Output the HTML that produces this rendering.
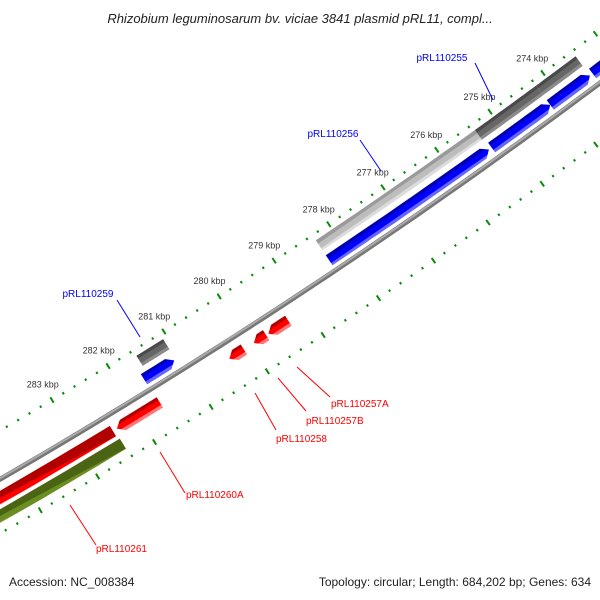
<!DOCTYPE html>
<html><head><meta charset="utf-8"><style>
html,body{margin:0;padding:0;background:#fff;width:600px;height:600px;overflow:hidden;}
svg{display:block;font-family:"Liberation Sans","DejaVu Sans",sans-serif;overflow:hidden;}
</style></head><body>
<svg id="map" width="600" height="600" viewBox="0 0 600 600">
<defs><clipPath id="frame"><rect x="0" y="0" width="600" height="600"/></clipPath></defs>
<rect width="600" height="600" fill="#fff"/>
<text x="300" y="23" text-anchor="middle" font-size="13" font-style="italic" fill="#222">Rhizobium leguminosarum bv. viciae 3841 plasmid pRL11, compl...</text>
<g id="marks" clip-path="url(#frame)"></g>
<g id="ann">
<line x1="475" y1="63" x2="493" y2="100" stroke="#00f" stroke-width="1"/>
<text x="442" y="61" text-anchor="middle" font-size="10" fill="#00f">pRL110255</text>
<line x1="360" y1="140" x2="381" y2="171" stroke="#00f" stroke-width="1"/>
<text x="333" y="137" text-anchor="middle" font-size="10" fill="#00f">pRL110256</text>
<line x1="117" y1="300" x2="140" y2="337" stroke="#00f" stroke-width="1"/>
<text x="88" y="297" text-anchor="middle" font-size="10" fill="#00f">pRL110259</text>
<line x1="297" y1="367" x2="330" y2="397" stroke="#f00" stroke-width="1"/>
<text x="331" y="407" font-size="10" fill="#f00">pRL110257A</text>
<line x1="278" y1="378" x2="306" y2="411" stroke="#f00" stroke-width="1"/>
<text x="306" y="424" font-size="10" fill="#f00">pRL110257B</text>
<line x1="255" y1="393" x2="276" y2="430" stroke="#f00" stroke-width="1"/>
<text x="276" y="442" font-size="10" fill="#f00">pRL110258</text>
<line x1="160" y1="452" x2="185" y2="493" stroke="#f00" stroke-width="1"/>
<text x="186" y="498" font-size="10" fill="#f00">pRL110260A</text>
<line x1="70" y1="505" x2="96" y2="545" stroke="#f00" stroke-width="1"/>
<text x="96" y="552" font-size="10" fill="#f00">pRL110261</text>
</g>
<text x="9" y="586" font-size="12" fill="#222">Accession: NC_008384</text>
<text x="591" y="586" text-anchor="end" font-size="12" fill="#222">Topology: circular; Length: 684,202 bp; Genes: 634</text>
</svg>
<script>
// data
const featStart = [278300,275350,274200,281070, 275350,274200,273450,271800,281100, 280120,279720,279320,281620,282450, 282420];
const featEnd   = [275350,274200,273450,281550, 278300,275300,274200,273400,281640, 280380,279940,279680,282380,292000, 292000];
const featTrack = ['geneL','geneD','geneD','geneD','fwd','fwd','fwd','fwd','fwd','rev','rev','rev','rev','rev','olive'];
const tickLabels = [274,275,276,277,278,279,280,281,282,283];
const tickStart = 271000, tickEnd = 287000, minorStep = 200;

// geometry (fit a circle through three major tick positions)
const P274=[543,73], P277=[382,188], P283=[52,400];
function circum(a,b,c){const d=2*(a[0]*(b[1]-c[1])+b[0]*(c[1]-a[1])+c[0]*(a[1]-b[1]));
const A=a[0]*a[0]+a[1]*a[1],B=b[0]*b[0]+b[1]*b[1],Cc=c[0]*c[0]+c[1]*c[1];
return [(A*(b[1]-c[1])+B*(c[1]-a[1])+Cc*(a[1]-b[1]))/d,(A*(c[0]-b[0])+B*(a[0]-c[0])+Cc*(b[0]-a[0]))/d];}
const C=circum(P274,P277,P283);
const Rt=Math.hypot(P274[0]-C[0],P274[1]-C[1]);
const a274=Math.atan2(P274[1]-C[1],P274[0]-C[0]);
const a283=Math.atan2(P283[1]-C[1],P283[0]-C[0]);
function ang(bp){return a274+(bp-274000)*(a283-a274)/9000;}
function pt(bp,r){const a=ang(bp);return [C[0]+r*Math.cos(a),C[1]+r*Math.sin(a)];}
const NS='http://www.w3.org/2000/svg';
const g=document.getElementById('marks');
function mk(tag,attrs){const e=document.createElementNS(NS,tag);for(const k in attrs)e.setAttribute(k,attrs[k]);g.appendChild(e);return e;}
const tracks={
 geneL:{r:Rt+12,w:12,c:['#9a9a9a','#bdbdbd','#dcdcdc'],arrow:0},
 geneD:{r:Rt+12,w:12,c:['#4a4a4a','#666','#8a8a8a'],arrow:0},
 fwd:{r:Rt+30,w:12,c:['#0000b0','#0000ff','#6666ff'],arrow:-1},
 rev:{r:Rt+58,w:12,c:['#b00000','#ff0000','#ff7777'],arrow:1},
 olive:{r:Rt+74,w:12,c:['#4a6414','#6b8e23','#a3b86a'],arrow:0}
};
let gid=0;
function arcPts(b1,b2,r,n){const o=[];for(let i=0;i<=n;i++)o.push(pt(b1+(b2-b1)*i/n,r));return o;}
// backbone
(function(){const r=Rt+42;const p=arcPts(268000,290000,r,80);
const d='M'+p.map(q=>q[0].toFixed(1)+','+q[1].toFixed(1)).join('L');
const e1=mk('path',{d:d,fill:'none',stroke:'#777',"stroke-width":5});


const p2=arcPts(268000,290000,r-1,80);
const e2=mk('path',{d:'M'+p2.map(q=>q[0].toFixed(1)+','+q[1].toFixed(1)).join('L'),fill:'none',stroke:'#aaa',"stroke-width":2});

})();
// features
for(let i=0;i<featStart.length;i++){
 const t=tracks[featTrack[i]];const lo=Math.min(featStart[i],featEnd[i]),hi=Math.max(featStart[i],featEnd[i]);
 const ri=t.r-t.w/2,ro=t.r+t.w/2;const headBp=7/(t.r*Math.abs(a283-a274)/9000);
 let b1=lo,b2=hi,tip=null;
 if(t.arrow<0){b1=Math.min(lo+headBp,hi);tip=pt(lo,t.r);}
 if(t.arrow>0){b2=Math.max(hi-headBp,lo);tip=pt(hi,t.r);}
 const inner=arcPts(b1,b2,ri,20),outer=arcPts(b2,b1,ro,20);
 let pts=inner.slice();
 if(t.arrow>0){pts.push(tip);}
 pts=pts.concat(outer);
 if(t.arrow<0){pts.push(tip);}
 const gm=lo/2+hi/2;const q1=pt(gm,ri),q2=pt(gm,ro);
 const id='gr'+(gid++);
 const lg=mk('linearGradient',{id:id,gradientUnits:'userSpaceOnUse',x1:q1[0],y1:q1[1],x2:q2[0],y2:q2[1]});
 [[0,t.c[0]],[0.25,t.c[0]],[0.3,t.c[1]],[0.7,t.c[1]],[0.75,t.c[2]],[1,t.c[2]]].forEach(s=>{const st=document.createElementNS(NS,'stop');st.setAttribute('offset',s[0]);st.setAttribute('stop-color',s[1]);lg.appendChild(st);});
 const e=mk('polygon',{points:pts.map(q=>q[0].toFixed(1)+','+q[1].toFixed(1)).join(' '),fill:'url(#'+id+')'});
 
 
}
// ticks
function ring(r,lab){for(let bp=tickStart;bp<=tickEnd;bp+=minorStep){const major=bp%1000===0;const h=major?3.2:1.2;
 const a=pt(bp,r-h),b=pt(bp,r+h);
 const e=mk('line',{x1:a[0].toFixed(1),y1:a[1].toFixed(1),x2:b[0].toFixed(1),y2:b[1].toFixed(1),stroke:'#0a8a0a',"stroke-width":2});
 
 }
 if(lab){tickLabels.forEach(k=>{const p=pt(k*1000,r-18);
 const t=mk('text',{x:p[0].toFixed(1),y:(p[1]+3).toFixed(1),"text-anchor":"middle","font-size":9,fill:'#333'});
 t.textContent=k+' kbp';
 
 });}}
ring(Rt,true);
ring(Rt+89,false);
</script>
</body></html>
